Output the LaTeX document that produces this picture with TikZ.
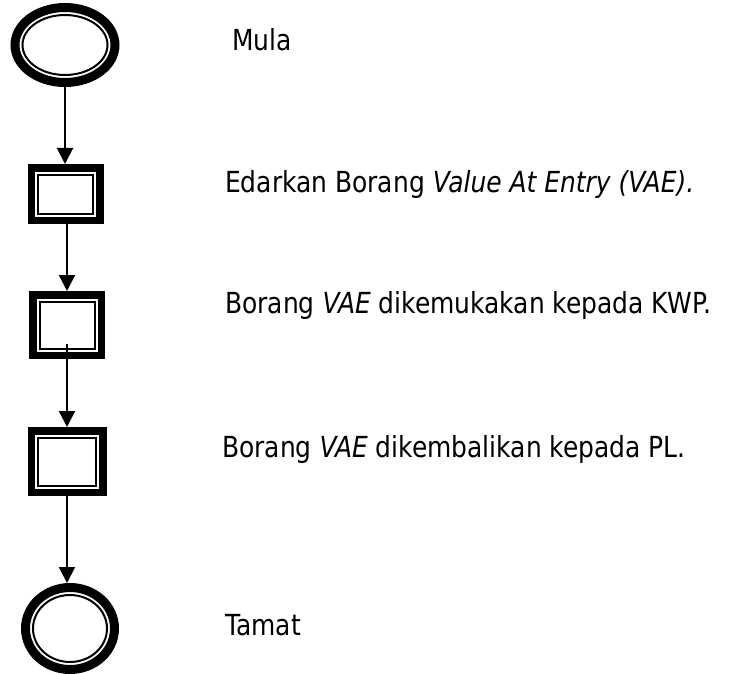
\documentclass[tikz,border=0pt]{standalone}
\usepackage{fontspec}
\setmainfont{DejaVu Sans}[FakeStretch=0.86]
\usepackage{tikz}
\usetikzlibrary{shapes.geometric,arrows.meta,calc}
\tikzstyle{flow}=[
  x=1pt, y=-1pt, >={Triangle[length=16pt,width=16pt]}
]
\tikzstyle{flownode}=[
  draw, line width=7.5pt, inner sep=0pt
]
\tikzstyle{flowterm}=[
  flownode, ellipse, line width=9pt,
  path picture={\draw[line width=2pt]
    let \p1=(path picture bounding box.north east),
        \p2=(path picture bounding box.center) in
    (\p2) ellipse [x radius={\x1-\x2-7.5pt}, y radius={\y1-\y2-7.5pt}];}
]
\tikzstyle{flowstep}=[
  flownode, rectangle,
  path picture={\draw[line width=2pt]
    ([shift={(6.75pt,-6.75pt)}]path picture bounding box.north west) rectangle
    ([shift={(-6.75pt,6.75pt)}]path picture bounding box.south east);}
]
\tikzstyle{flowedge}=[
  line width=2pt, ->
]
\tikzstyle{flowtext}=[
  anchor=base west, inner sep=0pt, font=\fontsize{29}{35}\selectfont
]
\begin{document}
\begin{tikzpicture}[flow]
    \useasboundingbox (0,0) rectangle (747,674);
    \node (start) [flowterm, minimum width=100pt, minimum height=75pt] at (65,45) {};
    \node (box1) [flowstep, minimum width=68.5pt, minimum height=52.5pt] at (65.5,194) {};
    \node (box2) [flowstep, minimum width=68.5pt, minimum height=60.5pt] at (67,325) {};
    \node (box3) [flowstep, minimum width=71.5pt, minimum height=61.5pt] at (67,461.5) {};
    \node (end) [flowterm, minimum width=89pt, minimum height=82pt] at (70,628.5) {};
    \node (mula) [flowtext] at (232,51) {Mula};
    \node (edar) [flowtext] at (225,193) {Edarkan Borang \textit{Value At Entry (VAE).}};
    \node (kemuka) [flowtext] at (225,313) {Borang \textit{VAE} dikemukakan kepada KWP.};
    \node (kembali) [flowtext] at (222,457) {Borang \textit{VAE} dikembalikan kepada PL.};
    \node (tamat) [flowtext] at (225,635) {Tamat};
    \draw [flowedge] (start) -- (start |- box1.north);
    \draw [flowedge] (box2 |- box1.south) -- (box2.north);
    \draw [flowedge] ([yshift=15pt]box2.south) -- (box2.south |- box3.north);
    \draw [flowedge] (box3) -- (box3 |- end.north);
\end{tikzpicture}
\end{document}
